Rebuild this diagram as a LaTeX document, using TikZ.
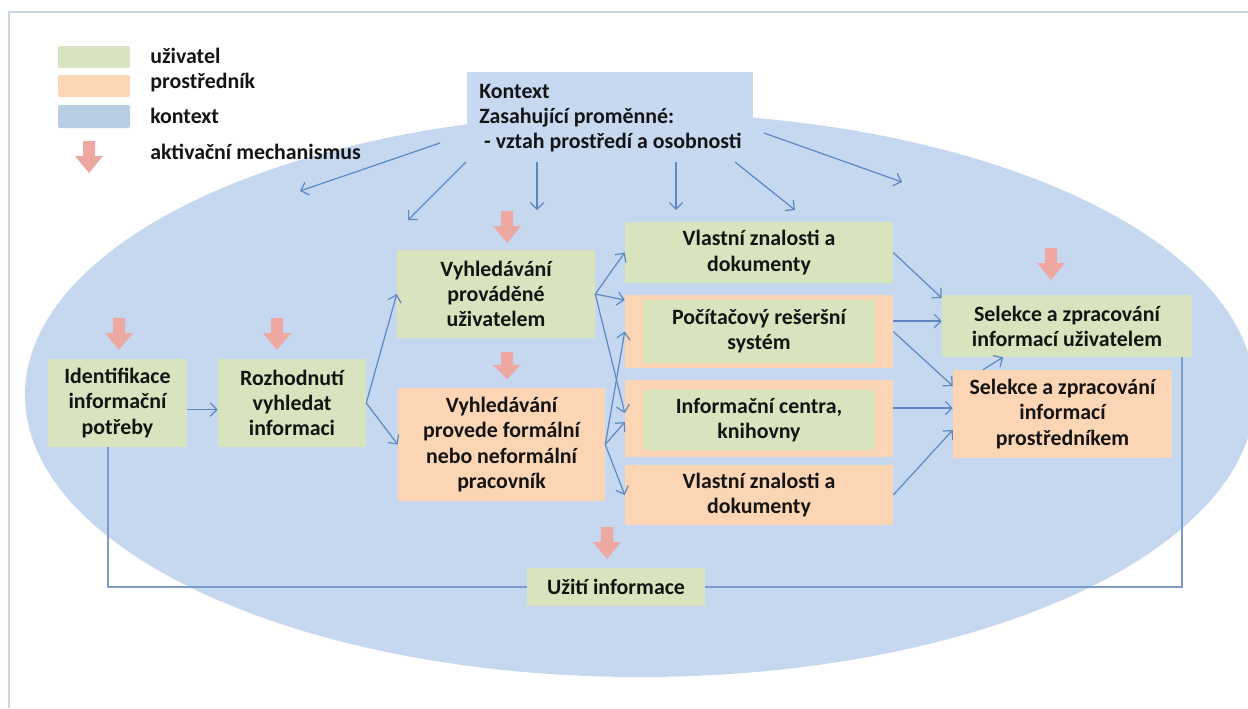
\documentclass[tikz,border=0pt]{standalone}
\usepackage{fontspec}
\setmainfont{Carlito}
\usetikzlibrary{arrows.meta}
\definecolor{gfill}{HTML}{D7E4BD}
\definecolor{ofill}{HTML}{FCD5B4}
\definecolor{bfill}{HTML}{B9CDE5}
\definecolor{ellcol}{HTML}{C6D8EF}
\definecolor{ctxcol}{HTML}{C6D9F1}
\definecolor{actcol}{HTML}{EDA8A2}
\definecolor{lncol}{HTML}{5B87C2}
\definecolor{fbcol}{HTML}{7C9BC8}
\definecolor{framecol}{HTML}{C9D6E3}
\definecolor{txtcol}{HTML}{141414}
\begin{document}
\begin{tikzpicture}[x=0.75pt,y=-0.75pt,
  every node/.style={font=\fontsize{16.4}{18.9}\selectfont\bfseries, text=txtcol},
  gbox/.style={fill=gfill, align=center, inner sep=0pt},
  obox/.style={fill=ofill, align=center, inner sep=0pt},
  lgd/.style={anchor=west, inner sep=0pt},
  conn/.style={draw=lncol, line width=0.9pt, -{Straight Barb[length=5pt,width=10pt]}},
  fb/.style={draw=fbcol, line width=1.1pt},
  act/.pic={\fill[actcol] (-6,0) -- (6,0) -- (6,15) -- (14,15) -- (0,32) -- (-14,15) -- (-6,15) -- cycle;}
]
\useasboundingbox (0,0) rectangle (1248,708);
% frame
\draw[framecol, line width=1.5pt] (9,708) -- (9,12) -- (1248,12);
% context ellipse
\fill[ellcol] (640,395) ellipse [x radius=461.25pt, y radius=211.5pt];
% legend
\fill[gfill, rounded corners=1.5pt] (58,46) rectangle (130,68);
\fill[ofill, rounded corners=1.5pt] (58,75) rectangle (130,97);
\fill[bfill, rounded corners=1.5pt] (58,105) rectangle (130,128);
\pic at (89,141) {act};
\node[lgd] (l1) at (150,56) {uživatel};
\node[lgd] (l2) at (150,83) {prostředník};
\node[lgd] (l3) at (150,116) {kontext};
\node[lgd] (l4) at (150,152) {aktivační mechanismus};
% context box
\node[fill=ctxcol, anchor=north west, minimum width=214.5pt, minimum height=66pt, inner sep=0pt] (ctx) at (467,72) {};
\node[anchor=north west, inner sep=0pt, align=left] (ctxt) at (479,84)
  {Kontext\\Zasahující proměnné:\\\ - vztah prostředí a osobnosti};
% boxes
\node[gbox, minimum width=104.25pt, minimum height=66pt] (b1) at (117.5,403) {Identifikace\\informační\\potřeby};
\node[gbox, minimum width=111pt, minimum height=66pt] (b2) at (292,403) {Rozhodnutí\\vyhledat\\informaci};
\node[gbox, minimum width=148.5pt, minimum height=66pt] (b3) at (496,294) {Vyhledávání\\prováděné\\uživatelem};
\node[obox, minimum width=155.25pt, minimum height=84.75pt] (b4) at (501.5,444.5) {Vyhledávání\\provede formální\\nebo neformální\\pracovník};
\node[gbox, minimum width=201pt, minimum height=45.75pt] (b5) at (759,252.5) {Vlastní znalosti a\\dokumenty};
\node[obox, minimum width=201pt, minimum height=54.75pt] (b6) at (759,331.5) {};
\node[gbox, minimum width=174pt, minimum height=47.25pt] (b6i) at (759,331.5) {Počítačový rešeršní\\systém};
\node[obox, minimum width=201pt, minimum height=57.75pt] (b7) at (759,418.5) {};
\node[gbox, minimum width=174pt, minimum height=45pt] (b7i) at (759,420) {Informační centra,\\knihovny};
\node[obox, minimum width=201pt, minimum height=45pt] (b8) at (759,495) {Vlastní znalosti a\\dokumenty};
\node[gbox, minimum width=187.5pt, minimum height=46.5pt] (b9) at (1067,326) {Selekce a zpracování\\informací uživatelem};
\node[obox, minimum width=164.25pt, minimum height=66pt] (b10) at (1062.5,414) {Selekce a zpracování\\informací\\prostředníkem};
\node[gbox, minimum width=133.5pt, minimum height=28.5pt] (use) at (616,587) {Užití informace};
% activation arrows
\pic at (119,318) {act};
\pic at (277,318) {act};
\pic at (507,211) {act};
\pic[yscale=0.85] at (507,352) {act};
\pic at (607,527) {act};
\pic at (1051,248) {act};
% context arrows
\coordinate (c1s) at (440,143); \coordinate (c1e) at (300,191);
\coordinate (c2s) at (466,162); \coordinate (c2e) at (408,220);
\coordinate (c3s) at (537,162); \coordinate (c3e) at (537,210);
\coordinate (c4s) at (676,162); \coordinate (c4e) at (676,210);
\coordinate (c5s) at (735,162); \coordinate (c5e) at (795,210);
\coordinate (c6s) at (764,133); \coordinate (c6e) at (902,182);
\foreach \i in {1,...,6} {\draw[conn] (c\i s) -- (c\i e);}
% flow arrows
\draw[conn] ([yshift=-5pt]b1.east) -- ([yshift=-5pt]b2.west);
\draw[conn] (b2.east) -- (b3.west);
\draw[conn] (b2.east) -- (b4.west);
\draw[conn] (b3.east) -- (b5.west);
\draw[conn] (b3.east) -- (b6.west |- 0,300);
\draw[conn] (b3.east) -- (b7.west |- 0,413);
\draw[conn] (b4.east) -- (b6.west);
\draw[conn] (b4.east) -- (b7.west |- 0,422);
\draw[conn] (b4.east) -- (b8.west);
\draw[conn] (b5.east) -- (b9.west |- 0,298);
\draw[conn] (b6.east |- 0,321) -- (b9.west |- 0,321);
\draw[conn] (b6.east) -- (b10.west |- 0,386);
\draw[conn] (b7.east |- 0,408) -- (b10.west |- 0,408);
\draw[conn] (b8.east) -- (b10.west |- 0,430);
\draw[conn] (b10.north -| 983,0) -- (b9.south -| 1003,0);
% feedback loop
\draw[fb] (b1.south -| 108,0) |- (use.west);
\draw[fb] (use.east) -| (b9.south -| 1182,0);
\end{tikzpicture}
\end{document}
